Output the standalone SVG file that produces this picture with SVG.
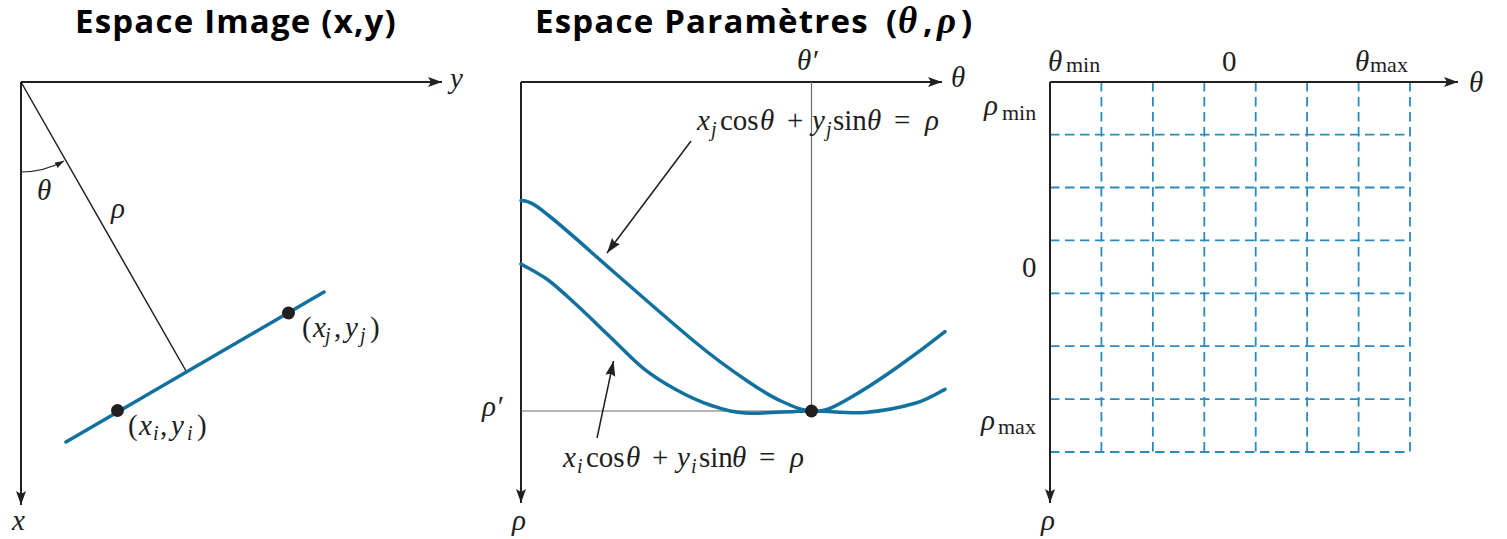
<svg xmlns="http://www.w3.org/2000/svg" width="1507" height="539" viewBox="0 0 1507 539">
<defs>
<marker id="ah" markerUnits="userSpaceOnUse" markerWidth="16" markerHeight="12" refX="14" refY="5" orient="auto">
<path d="M0,0 L14,5 L0,10 L3,5 z" fill="#231f20"/>
</marker>
<marker id="ahs" markerUnits="userSpaceOnUse" markerWidth="12" markerHeight="8" refX="9" refY="3" orient="auto">
<path d="M0,0 L9,3 L0,6 z" fill="#231f20"/>
</marker>
<marker id="ahm" markerUnits="userSpaceOnUse" markerWidth="18" markerHeight="12" refX="15" refY="5" orient="auto">
<path d="M0,0 L15,5 L0,10 L2,5 z" fill="#231f20"/>
</marker>
<style>
.title{font-family:'Open Sans','Liberation Sans',sans-serif;font-weight:700;font-size:33px;letter-spacing:1.2px;fill:#000}
.gk{font-family:'Liberation Serif',serif;font-style:italic;font-weight:700;font-size:37px;letter-spacing:0}
.m{font-family:'Liberation Serif',serif;font-size:29px;fill:#1e1e1e}
.i{font-style:italic}
.sub{font-size:20px}
.sr{font-family:'Liberation Serif',serif;font-size:22px;font-style:normal}
.axis{stroke:#231f20;stroke-width:2;fill:none}
.thin{stroke:#6d6d6d;stroke-width:1.2;fill:none}
.blue{stroke:#13719f;stroke-width:3.5;fill:none;stroke-linecap:round}
.grid{stroke:#2a8bbf;stroke-width:1.8;stroke-dasharray:9.5 5.5;fill:none}
.ann{stroke:#231f20;stroke-width:1.5;fill:none}
.dot{fill:#231f20}
</style>
</defs>

<g id="titles">
<text class="title" x="75" y="33">Espace Image (x,y)</text>
<text class="title" y="33"><tspan x="535">Espace Paramètres</tspan><tspan x="886">(</tspan><tspan class="gk" x="898">θ</tspan><tspan x="923">,</tspan><tspan class="gk" x="937">ρ</tspan><tspan x="961">)</tspan></text>
</g>

<!-- Left panel: image space -->
<g id="image-space">
<line class="axis" x1="21" y1="82" x2="442" y2="82" marker-end="url(#ah)"/>
<line class="axis" x1="21" y1="82" x2="21" y2="505" marker-end="url(#ah)"/>
<text class="m i" x="450" y="88">y</text>
<text class="m i" x="12" y="530">x</text>
<line x1="21" y1="82" x2="186" y2="371" stroke="#231f20" stroke-width="1.5"/>
<path d="M21,172 A90,90 0 0 0 64,161" fill="none" stroke="#231f20" stroke-width="1.2" marker-end="url(#ahs)"/>
<text class="m i" x="37" y="200">θ</text>
<text class="m i" x="111" y="218">ρ</text>
<line class="blue" x1="66" y1="442" x2="324" y2="292"/>
<circle class="dot" cx="117.5" cy="410.5" r="6.5"/>
<circle class="dot" cx="288.5" cy="313" r="6.5"/>
<text class="m"><tspan x="128" y="435">(</tspan><tspan class="i" x="139" y="435">x</tspan><tspan class="i sub" x="153" y="440">i</tspan><tspan x="160" y="435">,</tspan><tspan class="i" x="171" y="435">y</tspan><tspan class="i sub" x="187" y="440">i</tspan><tspan x="197" y="435">)</tspan></text>
<text class="m"><tspan x="302" y="337">(</tspan><tspan class="i" x="313" y="337">x</tspan><tspan class="i sub" x="325" y="342">j</tspan><tspan x="334" y="337">,</tspan><tspan class="i" x="345" y="337">y</tspan><tspan class="i sub" x="360" y="342">j</tspan><tspan x="370" y="337">)</tspan></text>
</g>

<!-- Middle panel: parameter space -->
<g id="param-space">
<line class="axis" x1="521" y1="82" x2="942" y2="82" marker-end="url(#ah)"/>
<line class="axis" x1="521" y1="82" x2="521" y2="503" marker-end="url(#ah)"/>
<text class="m i" x="951" y="87">θ</text>
<text class="m i" x="512" y="530">ρ</text>
<line class="thin" x1="811.5" y1="82" x2="811.5" y2="411"/>
<line class="thin" x1="521" y1="411" x2="811.5" y2="411"/>
<text class="m i" x="797" y="70">θ′</text>
<text class="m i" x="482" y="416">ρ′</text>
<path class="blue" d="M521,200.5 C531,200.5 539,208 548,215 C570,232.5 593,254 615,273 C642,296.5 668,319.5 695,342 C713,357 731,370 748,381.5 C761,390.3 771,396.5 782,401.5 C793,406.5 804,411.5 815,411.5 C826,411.5 836,406 848,399 C864,390 882,378 898,366.7 C914,355.5 932,342 945,331.7"/>
<path class="blue" d="M521,264 C525.5,266.7 538.7,273.2 548,280 C557.3,286.8 566.4,295.6 576.7,305 C587,314.45 598.9,326.15 610,336.7 C621.1,347.25 632.2,359.4 643.3,368.3 C654.4,377.2 665.6,383.9 676.7,390 C687.8,396.1 698.6,401.2 710,405 C721.4,408.8 728.2,412 745,413 C761.8,414 791,411.1 811,411 C831,410.9 847.7,413.8 865,412.5 C882.3,411.2 901.7,407.2 915,403.3 C928.3,399.4 940,391.6 945,389.3"/>
<circle class="dot" cx="811.5" cy="411" r="6.5"/>
</g>

<g id="annotations">
<line class="ann" x1="691" y1="141" x2="607" y2="253" marker-end="url(#ahm)"/>
<line class="ann" x1="597" y1="438" x2="613.5" y2="361" marker-end="url(#ahm)"/>
<text class="m"><tspan class="i" x="697" y="130">x</tspan><tspan class="i sub" x="711" y="136">j</tspan><tspan x="720" y="130">cos</tspan><tspan class="i" x="760" y="130">θ</tspan><tspan x="787" y="130">+</tspan><tspan class="i" x="812" y="130">y</tspan><tspan class="i sub" x="826" y="136">j</tspan><tspan x="833" y="130">sin</tspan><tspan class="i" x="867" y="130">θ</tspan><tspan x="894" y="130">=</tspan><tspan class="i" x="925" y="130">ρ</tspan></text>
<text class="m"><tspan class="i" x="563" y="467">x</tspan><tspan class="i sub" x="577" y="473">i</tspan><tspan x="586" y="467">cos</tspan><tspan class="i" x="626" y="467">θ</tspan><tspan x="652" y="467">+</tspan><tspan class="i" x="677" y="467">y</tspan><tspan class="i sub" x="691" y="473">i</tspan><tspan x="699" y="467">sin</tspan><tspan class="i" x="732" y="467">θ</tspan><tspan x="759" y="467">=</tspan><tspan class="i" x="790" y="467">ρ</tspan></text>
</g>

<!-- Right panel: accumulator grid -->
<g id="accumulator">
<g class="grid">
<path d="M1101.4,82 V452 M1152.9,82 V452 M1204.3,82 V452 M1255.7,82 V452 M1307.1,82 V452 M1358.6,82 V452 M1410,82 V452"/>
<path d="M1050,134.6 H1410 M1050,187.5 H1410 M1050,240.4 H1410 M1050,293.3 H1410 M1050,346.2 H1410 M1050,399.1 H1410 M1050,452 H1410"/>
</g>
<line class="axis" x1="1050" y1="82" x2="1458" y2="82" marker-end="url(#ah)"/>
<line class="axis" x1="1050" y1="82" x2="1050" y2="503" marker-end="url(#ah)"/>
<text class="m i" x="1469" y="92">θ</text>
<text class="m i" x="1041" y="530">ρ</text>
<text class="m"><tspan class="i" x="1048" y="71">θ</tspan><tspan class="sr" x="1066" y="72">min</tspan></text>
<text class="m" x="1222" y="71">0</text>
<text class="m"><tspan class="i" x="1355" y="71">θ</tspan><tspan class="sr" x="1370" y="72">max</tspan></text>
<text class="m"><tspan class="i" x="984" y="115">ρ</tspan><tspan class="sr" x="1002" y="120">min</tspan></text>
<text class="m" x="1022" y="277">0</text>
<text class="m"><tspan class="i" x="981" y="430">ρ</tspan><tspan class="sr" x="998" y="434">max</tspan></text>
</g>
</svg>
